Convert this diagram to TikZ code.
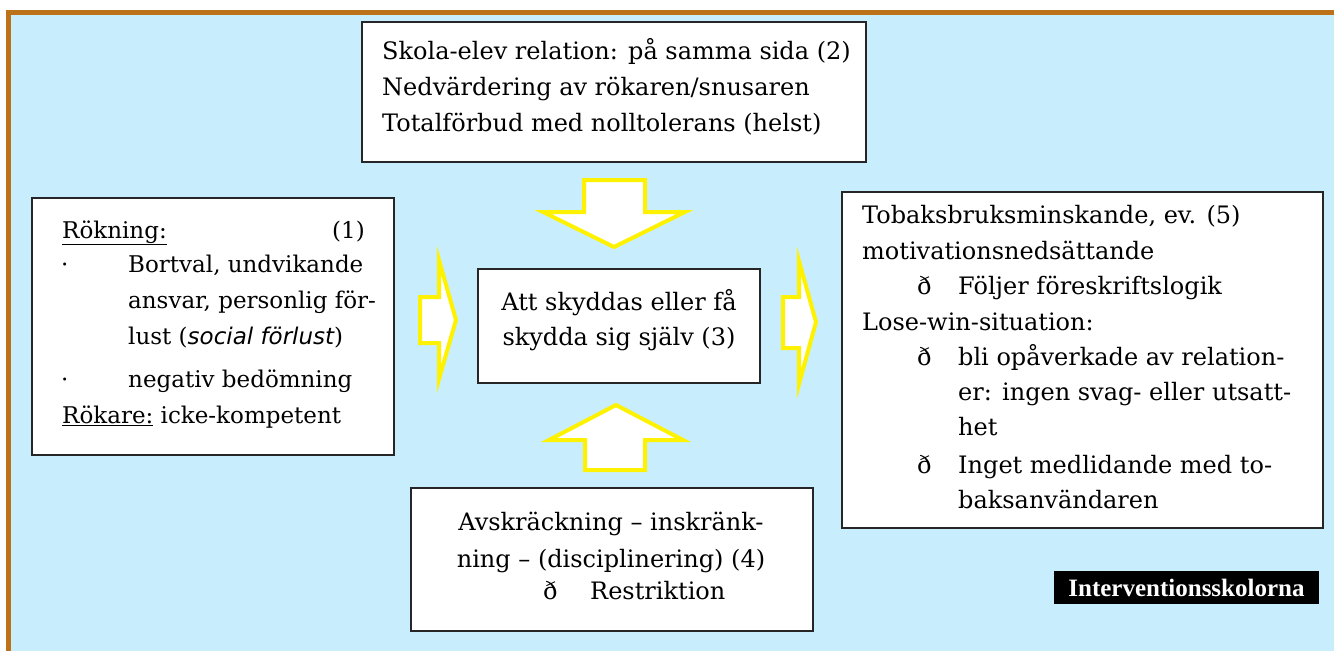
\documentclass[tikz,border=0pt]{standalone}
\usepackage{fontspec}
\setmainfont{DejaVu Serif}
\setsansfont{DejaVu Sans}
\newfontfamily\labelfont{Liberation Serif}
\definecolor{bgblue}{RGB}{200,238,254}
\definecolor{framebrown}{RGB}{188,114,24}
\tikzset{
  box/.style={draw=black!85, line width=1.2pt, fill=white, inner sep=0pt},
  txt/.style={inner sep=0pt, font=\fontsize{24}{28}\selectfont, anchor=base west},
  ltxt/.style={txt, font=\fontsize{23}{28}\selectfont},
  ctxt/.style={txt, anchor=base},
  blockarrow/.style={draw=yellow, fill=white, line width=4pt, line join=miter},
}
\begin{document}
\begin{tikzpicture}[x=1pt,y=-1pt]
\useasboundingbox (0,0) rectangle (1334,651);
% background and frame
\fill[bgblue] (11,15) rectangle (1334,651);
\draw[framebrown, line width=5pt] (8.5,651) -- (8.5,12.5) -- (1334,12.5);

% boxes
\node[box, minimum width=504pt, minimum height=140pt] (topbox) at (614,92) {};
\node[box, minimum width=362pt, minimum height=257pt] (leftbox) at (213,326.5) {};
\node[box, minimum width=282pt, minimum height=114pt] (centerbox) at (619,326) {};
\node[box, minimum width=402pt, minimum height=143pt] (bottombox) at (612,559.5) {};
\node[box, minimum width=481pt, minimum height=336pt] (rightbox) at (1082.5,360) {};

% block arrows
\draw[blockarrow] (584,180) -- (645,180) -- (645,212) -- (685,212) -- (614,247) -- (543,212) -- (584,212) -- cycle;
\draw[blockarrow] (585,470) -- (645,470) -- (645,440) -- (683,440) -- (616,405) -- (549,440) -- (585,440) -- cycle;
\draw[blockarrow] (420,297) -- (439,297) -- (439,260) -- (456,320) -- (439,379) -- (439,343) -- (420,343) -- cycle;
\draw[blockarrow] (783,297) -- (799,297) -- (799,261) -- (816,322) -- (799,384) -- (799,348) -- (783,348) -- cycle;

% top box text
\node[txt] (t1) at (382,59) {Skola-elev relation: på samma sida (2)};
\node[txt] (t2) at (382,95) {Nedvärdering av rökaren/snusaren};
\node[txt] (t3) at (382,131) {Totalförbud med nolltolerans (helst)};

% left box text
\node[ltxt] (l1) at (62,238) {\underline{Rökning:}};
\node[ltxt, anchor=base east] (l1n) at (365,238) {(1)};
\node[ltxt] (l2b) at (61,272) {·};
\node[ltxt] (l2) at (128,272) {Bortval, undvikande};
\node[ltxt] (l3) at (128,308) {ansvar, personlig för-};
\node[ltxt] (l4) at (128,344) {lust ({\sffamily\itshape social förlust})};
\node[ltxt] (l5b) at (61,387) {·};
\node[ltxt] (l5) at (128,387) {negativ bedömning};
\node[ltxt] (l6) at (62,423) {\underline{Rökare:} icke-kompetent};

% center box text
\node[ctxt] (c1) at (619,310) {Att skyddas eller få};
\node[ctxt] (c2) at (619,345) {skydda sig själv (3)};

% bottom box text
\node[ctxt] (b1) at (611,530) {Avskräckning – inskränk-};
\node[ctxt] (b2) at (611,567) {ning – (disciplinering) (4)};
\node[txt] (b3a) at (543,599) {ð};
\node[txt] (b3) at (590,599) {Restriktion};

% right box text
\node[txt] (r1) at (862,223) {Tobaksbruksminskande, ev. (5)};
\node[txt] (r2) at (862,259) {motivationsnedsättande};
\node[txt] (r3a) at (917,294) {ð};
\node[txt] (r3) at (958,294) {Följer föreskriftslogik};
\node[txt] (r4) at (862,330) {Lose-win-situation:};
\node[txt] (r5a) at (917,365) {ð};
\node[txt] (r5) at (958,365) {bli opåverkade av relation-};
\node[txt] (r6) at (958,400) {er: ingen svag- eller utsatt-};
\node[txt] (r7) at (958,435) {het};
\node[txt] (r8a) at (917,473) {ð};
\node[txt] (r8) at (958,473) {Inget medlidande med to-};
\node[txt] (r9) at (958,508) {baksanvändaren};

% label
\node[fill=black, text=white, inner sep=0pt, minimum width=265pt, minimum height=33pt,
      font=\labelfont\bfseries\fontsize{25}{25}\selectfont] (label) at (1186.5,587.5) {Interventionsskolorna};
\end{tikzpicture}
\end{document}
